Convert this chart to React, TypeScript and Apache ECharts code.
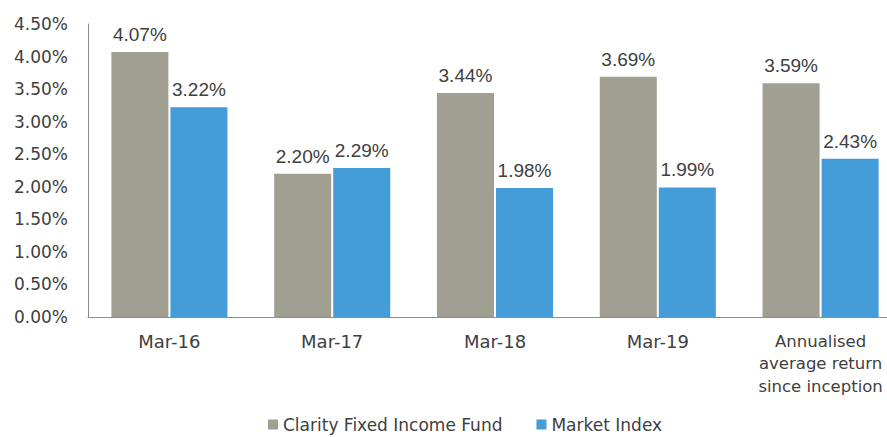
import React, { useEffect, useRef } from "react";
import * as echarts from "echarts";

const categories = ["Mar-16", "Mar-17", "Mar-18", "Mar-19", "Annualised\naverage return\nsince inception"];
const fundValues = [4.07, 2.2, 3.44, 3.69, 3.59];
const indexValues = [3.22, 2.29, 1.98, 1.99, 2.43];
const seriesNames = ["Clarity Fixed Income Fund", "Market Index"];

const AXIS_FONT = "'DejaVu Sans', sans-serif";
const LABEL_FONT = "'Liberation Sans', Arial, sans-serif";

export default function App() {
  const ref = useRef<HTMLDivElement>(null);
  useEffect(() => {
    if (!ref.current) return;
    const chart = echarts.init(ref.current, undefined, { renderer: "svg" });
    const labelCfg = {
      show: true,
      position: "top" as const,
      distance: 8,
      color: "#404040",
      fontSize: 19,
      fontFamily: LABEL_FONT,
      formatter: (p: any) => p.value.toFixed(2) + "%",
    };
    chart.setOption({
      animation: false,
      backgroundColor: "#ffffff",
      grid: { left: 88, right: 0, top: 24, bottom: 120, containLabel: false },
      legend: {
        top: 416,
        left: 268,
        padding: 0,
        itemWidth: 10,
        itemHeight: 10,
        itemGap: 34,
        icon: "rect",
        textStyle: { fontSize: 17, color: "#404040", fontFamily: AXIS_FONT },
        data: seriesNames,
      },
      xAxis: {
        type: "category",
        data: categories,
        axisLine: { lineStyle: { color: "#8c8c8c", width: 1 } },
        axisTick: { show: false },
        axisLabel: {
          color: "#404040",
          fontSize: 18,
          fontFamily: AXIS_FONT,
          lineHeight: 22.5,
          margin: 13,
          interval: 0,
          formatter: (v: string) =>
            v.indexOf("\n") >= 0
              ? v
                  .split("\n")
                  .map((l) => `{s|${l}}`)
                  .join("\n")
              : v,
          rich: {
            s: {
              fontSize: 16.5,
              fontFamily: AXIS_FONT,
              color: "#404040",
              lineHeight: 22.5,
            },
          },
        },
      },
      yAxis: {
        type: "value",
        min: 0,
        max: 4.5,
        interval: 0.5,
        axisLine: { show: true, lineStyle: { color: "#8c8c8c", width: 1 } },
        axisTick: { show: false },
        splitLine: { show: false },
        axisLabel: {
          color: "#404040",
          fontSize: 17,
          fontFamily: AXIS_FONT,
          margin: 20,
          formatter: (v: number) => v.toFixed(2) + "%",
        },
      },
      series: [
        {
          name: seriesNames[0],
          type: "bar",
          data: fundValues,
          barGap: "3.5%",
          barCategoryGap: "28.7%",
          itemStyle: { color: "#A19E92" },
          label: labelCfg,
        },
        {
          name: seriesNames[1],
          type: "bar",
          data: indexValues,
          itemStyle: { color: "#449DD8" },
          label: labelCfg,
        },
      ],
    });
    return () => chart.dispose();
  }, []);
  return (
    <div
      style={{
        position: "fixed",
        left: 0,
        top: 0,
        width: 887,
        height: 437,
        overflow: "hidden",
        background: "#ffffff",
      }}
    >
      <div ref={ref} style={{ width: 902, height: 437 }} />
    </div>
  );
}
